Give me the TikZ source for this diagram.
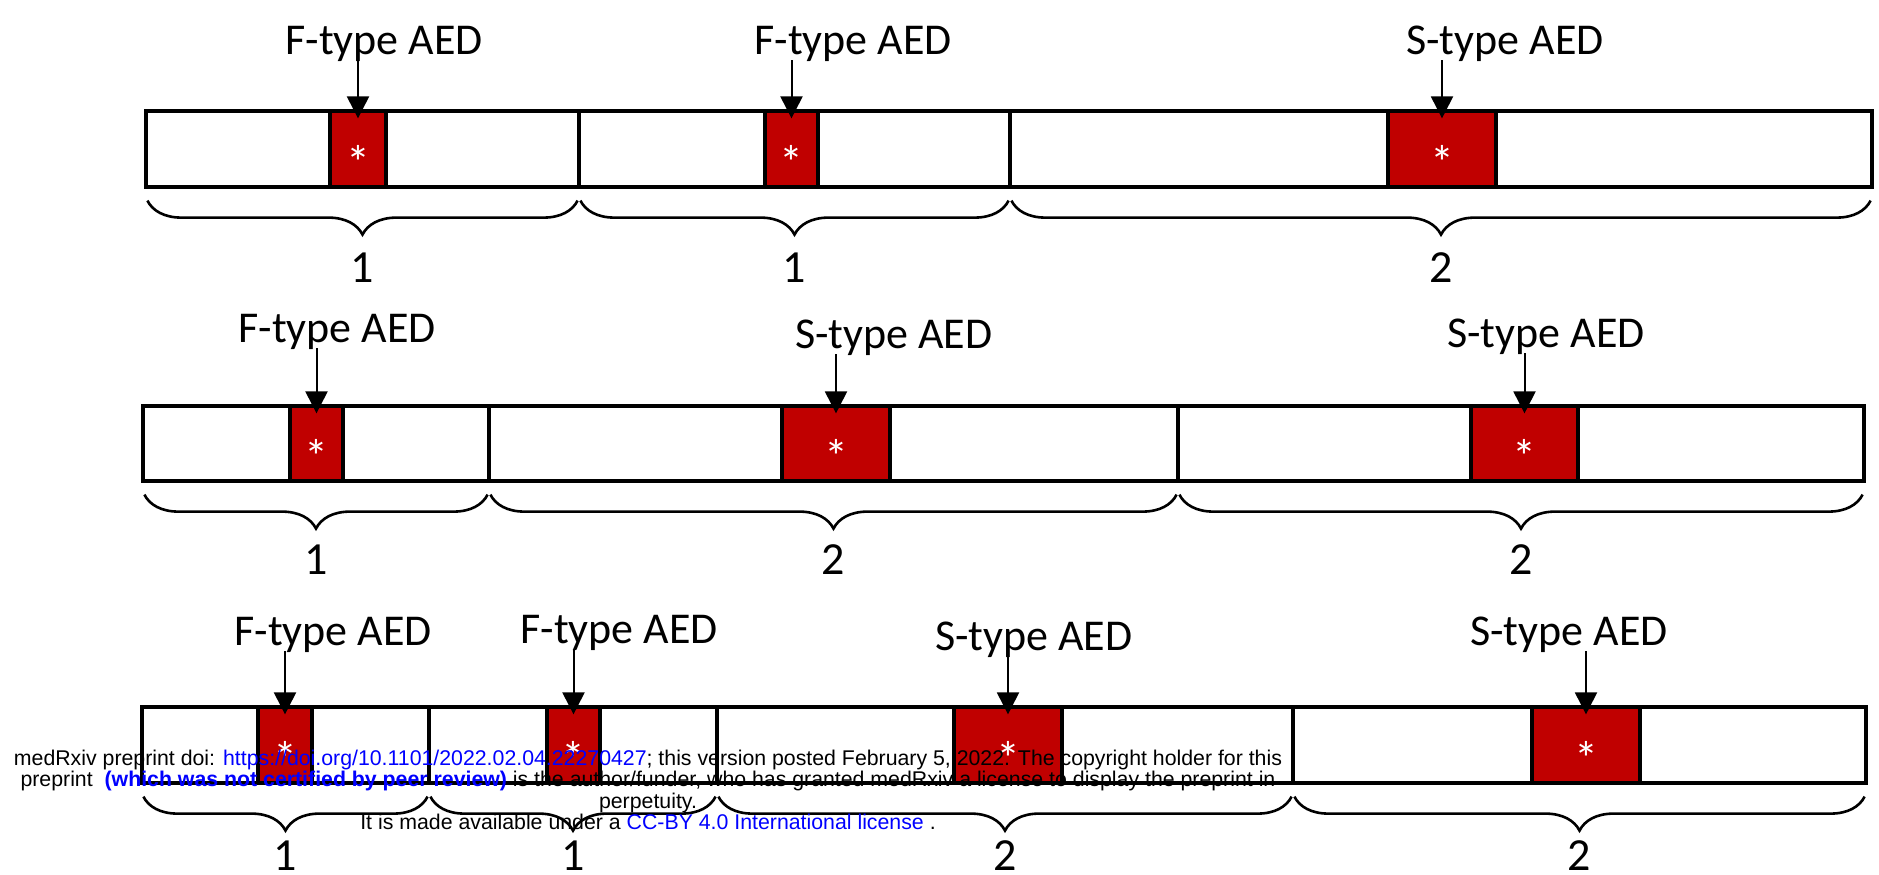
\documentclass[tikz,border=0pt]{standalone}
\usepackage{fontspec}
\setmainfont{Carlito}
\newfontfamily\notefont{Liberation Sans}
\usepackage{tikz}
\usetikzlibrary{arrows.meta, positioning, fit, calc, decorations.pathreplacing}
\definecolor{aedred}{HTML}{C00000}
\definecolor{linkblue}{RGB}{0,0,255}
\tikzset{%
  >={Triangle[width=11pt,length=11pt]},
  % Specifications for style of nodes:
           seg/.style = {rectangle, draw=black, line width=1.6pt, inner sep=0pt},
           aed/.style = {seg, fill=aedred},
          star/.style = {inner sep=0pt, anchor=base, yshift=-15pt, text=white,
                         font=\fontsize{24}{24}\selectfont},
           tag/.style = {inner sep=0pt, anchor=base, font=\fontsize{22}{26}\selectfont},
           num/.style = {inner sep=0pt, font=\fontsize{23}{26}\selectfont},
         curly/.style = {decorate, decoration={brace, mirror, amplitude=17pt}, line width=1.3pt},
         point/.style = {->, line width=1pt, shorten >=-4.5pt},
}

\begin{document}
\begin{tikzpicture}[x=0.5pt, y=-0.5pt]
  \useasboundingbox (0,0) rectangle (1879,874);

  % First row: segments and AEDs
  \node (s11) [seg, fit={(146,111) (579,187)}]   {};
  \node (s12) [seg, fit={(579,111) (1010,187)}]  {};
  \node (s13) [seg, fit={(1010,111) (1872,187)}] {};
  \node (r11) [aed, fit={(330,111) (386,187)}]   {};
  \node (r12) [aed, fit={(765,111) (818,187)}]   {};
  \node (r13) [aed, fit={(1388,111) (1496,187)}] {};
  \node (l11) [tag] at (384,54)  {F-type AED};
  \node (l12) [tag] at (853,54)  {F-type AED};
  \node (l13) [tag] at (1505,54) {S-type AED};
  \node (n11) [num, below=32pt of s11] {1};
  \node (n12) [num, below=32pt of s12] {1};
  \node (n13) [num, below=32pt of s13] {2};

  % Second row
  \node (s21) [seg, fit={(143,406) (489,481)}]   {};
  \node (s22) [seg, fit={(489,406) (1178,481)}]  {};
  \node (s23) [seg, fit={(1178,406) (1864,481)}] {};
  \node (r21) [aed, fit={(290,406) (343,481)}]   {};
  \node (r22) [aed, fit={(782,406) (890,481)}]   {};
  \node (r23) [aed, fit={(1471,406) (1578,481)}] {};
  \node (l21) [tag] at (337,342)  {F-type AED};
  \node (l22) [tag] at (894,348)  {S-type AED};
  \node (l23) [tag] at (1546,347) {S-type AED};
  \node (n21) [num, below=31pt of s21] {1};
  \node (n22) [num, below=31pt of s22] {2};
  \node (n23) [num, below=31pt of s23] {2};

  % Third row
  \node (s31) [seg, fit={(142,707) (429,783)}]   {};
  \node (s32) [seg, fit={(429,707) (717,783)}]   {};
  \node (s33) [seg, fit={(717,707) (1293,783)}]  {};
  \node (s34) [seg, fit={(1293,707) (1866,783)}] {};
  \node (r31) [aed, fit={(258,707) (312,783)}]   {};
  \node (r32) [aed, fit={(547,707) (600,783)}]   {};
  \node (r33) [aed, fit={(954,707) (1062,783)}]  {};
  \node (r34) [aed, fit={(1532,707) (1640,783)}] {};
  \node (l31) [tag] at (333,645)  {F-type AED};
  \node (l32) [tag] at (619,643)  {F-type AED};
  \node (l33) [tag] at (1034,650) {S-type AED};
  \node (l34) [tag] at (1569,645) {S-type AED};
  \node (n31) [num, below=28pt of s31] {1};
  \node (n32) [num, below=28pt of s32] {1};
  \node (n33) [num, below=28pt of s33] {2};
  \node (n34) [num, below=28pt of s34] {2};

  % Stars in the AEDs, arrows from labels and braces under segments
  \foreach \r in {11,12,13,21,22,23,31,32,33,34} {
    \node (t\r) [star] at (r\r.center) {*};
    \draw[point] ($(l\r.base -| r\r.north)+(0,6)$) -- (r\r.north);
    \draw[curly] ($(s\r.south west)+(3,12)$) -- ($(s\r.south east)+(-3,12)$);
  }

  % preprint note over the picture
  \node (note) [font=\notefont\fontsize{10.65}{10.65}\selectfont, align=center, inner sep=0pt] at (648,790)
    {medRxiv preprint doi: \textcolor{linkblue}{https://doi.org/10.1101/2022.02.04.22270427}; this version posted February 5, 2022. The copyright holder for this\\
     preprint~ \textcolor{linkblue}{\bfseries (which was not certified by peer review)} is the author/funder, who has granted medRxiv a license to display the preprint in\\
     perpetuity.\\
     It is made available under a \textcolor{linkblue}{CC-BY 4.0 International license} .};
\end{tikzpicture}
\end{document}
